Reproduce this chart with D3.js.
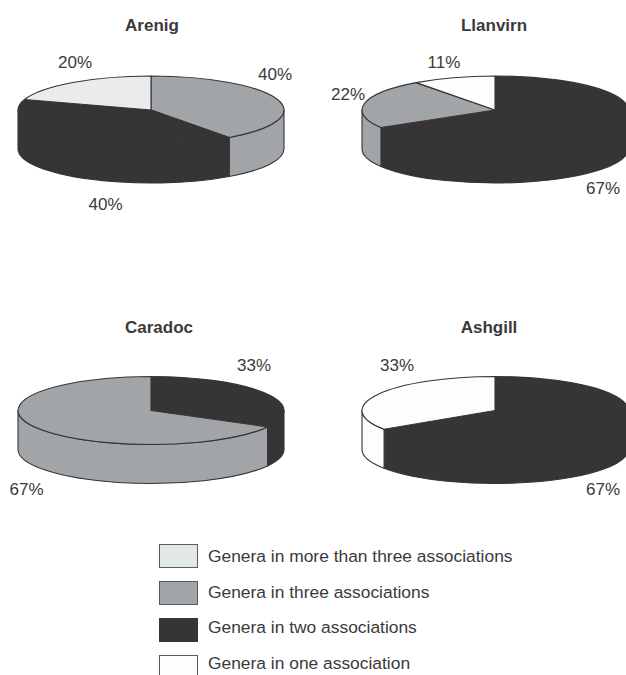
<!DOCTYPE html>
<html>
<head>
<meta charset="utf-8">
<script src="https://cdnjs.cloudflare.com/ajax/libs/d3/7.8.5/d3.min.js"></script>
<style>
  body { margin: 0; background: #fff; overflow: hidden; }
  svg { display: block; }
  text { font-family: "Liberation Sans", Arial, sans-serif; fill: #3a3a3a; }
  .titulo { font-size: 17px; font-weight: bold; text-anchor: middle; }
  .pct { font-size: 17px; text-anchor: middle; }
  .leyenda { font-size: 17.4px; }
  .pie path { vector-effect: non-scaling-stroke; stroke: #373435; stroke-width: 1.1; stroke-linejoin: round; }
</style>
</head>
<body>
<div id="graf"></div>
<script>
// Datos
const categorias = [
  "Genera in more than three associations",
  "Genera in three associations",
  "Genera in two associations",
  "Genera in one association"
]
const periodos = ["Arenig", "Llanvirn", "Caradoc", "Ashgill"]

// slices clockwise from 12 o'clock
const sliceCats = [
  ["Genera in three associations", "Genera in two associations", "Genera in more than three associations"],
  ["Genera in two associations", "Genera in three associations", "Genera in one association"],
  ["Genera in two associations", "Genera in three associations"],
  ["Genera in two associations", "Genera in one association"]
]
// share of the pie as drawn (%)
const sliceValues = [
  [40, 40, 20],
  [66.4, 23.5, 10.1],
  [33, 67],
  [65.7, 34.3]
]
// percentages as printed, same order as the slices
const sliceLabels = [
  ["40%", "40%", "20%"],
  ["67%", "22%", "11%"],
  ["33%", "67%"],
  ["67%", "33%"]
]

// Dimensiones
const anchoTotal = 626
const altoTotal = 675
const rx = 133
const ry = 34
const depth = 39
const k = ry / rx

// centre of each top ellipse
const cxs = [151, 495, 151, 495]
const cys = [110, 110, 410.5, 410.5]
const tituloPos = [[152, 31], [494, 31], [159, 333], [489, 333]]
const labelPos = [
  [[275, 80], [105.5, 210], [75, 68]],
  [[603, 194], [348, 100], [444, 68]],
  [[254, 371], [26.5, 495]],
  [[603, 495], [397, 371]]
]

const color = d3.scaleOrdinal()
  .domain(categorias)
  .range(["#e9ebec", "#a2a5a8", "#373435", "#fdfdfd"])

const svg = d3.select("#graf").append("svg")
  .attr("width", anchoTotal)
  .attr("height", altoTotal)

const pie = d3.pie().sort(null).value(d => d.v)
const arc = d3.arc().innerRadius(0).outerRadius(rx)

// side wall of a slice, only the front half of the disc shows
const wall = (d) => {
  const a0 = Math.max(d.startAngle, Math.PI / 2) - Math.PI / 2
  const a1 = Math.min(d.endAngle, 3 * Math.PI / 2) - Math.PI / 2
  if (a1 <= a0) return null
  const p = d3.path()
  p.arc(0, 0, rx, a0, a1, false)
  p.lineTo(rx * Math.cos(a1), rx * Math.sin(a1) + depth / k)
  p.arc(0, depth / k, rx, a1, a0, true)
  p.closePath()
  return p.toString()
}

periodos.forEach((nombre, i) => {
  const datos = sliceValues[i].map((v, j) => ({ v: v, cat: sliceCats[i][j] }))
  const arcs = pie(datos)

  const g = svg.append("g")
    .attr("class", "pie")
    .attr("transform", `translate(${cxs[i]},${cys[i]}) scale(1,${k})`)

  g.selectAll("path.wall").data(arcs).enter()
    .append("path")
    .attr("class", "wall")
    .attr("d", wall)
    .attr("fill", d => color(d.data.cat))

  g.selectAll("path.top").data(arcs).enter()
    .append("path")
    .attr("class", "top")
    .attr("d", arc)
    .attr("fill", d => color(d.data.cat))

  svg.append("text")
    .attr("class", "titulo")
    .attr("x", tituloPos[i][0])
    .attr("y", tituloPos[i][1])
    .text(nombre)

  svg.selectAll(null).data(sliceLabels[i]).enter()
    .append("text")
    .attr("class", "pct")
    .attr("x", (d, j) => labelPos[i][j][0])
    .attr("y", (d, j) => labelPos[i][j][1])
    .text(d => d)
})

// Leyenda: swatches and texts are not on quite the same spacing
const ySwatch = d3.scalePoint().domain(categorias).range([544.5, 655.5])
const yTexto = d3.scalePoint().domain(categorias).range([562, 669])

svg.selectAll("rect.swatch").data(categorias).enter()
  .append("rect")
  .attr("class", "swatch")
  .attr("x", 159.5)
  .attr("y", d => ySwatch(d))
  .attr("width", 38)
  .attr("height", 23)
  .attr("fill", d => d === categorias[0] ? "#e2e8e8" : color(d))
  .attr("stroke", d => d === categorias[2] ? "#373435" : "#5a5a5a")
  .attr("stroke-width", 1)

svg.selectAll("text.leyenda").data(categorias).enter()
  .append("text")
  .attr("class", "leyenda")
  .attr("x", 208)
  .attr("y", d => yTexto(d))
  .text(d => d)
</script>
</body>
</html>
